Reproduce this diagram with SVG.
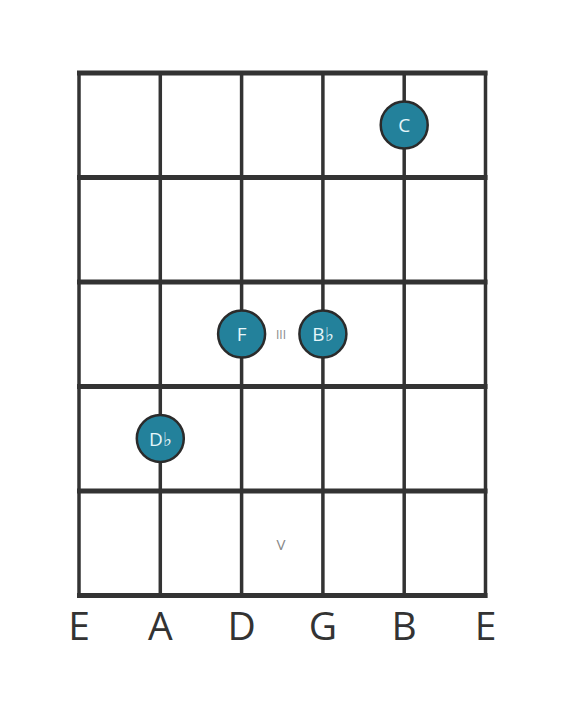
<svg xmlns="http://www.w3.org/2000/svg" width="566" height="711" viewBox="0 0 566 711">
<style>
.fret{stroke:#333;stroke-width:5;fill:none}
.str{stroke:#333;stroke-width:3.5;fill:none}
.dot{fill:#23819b;stroke:#2b2b2b;stroke-width:2.5}
.dt{font-family:"Open Sans","Noto Sans",sans-serif;font-size:19px;fill:#e6f6fa;text-anchor:middle}
.mk{font-family:"Open Sans","Noto Sans",sans-serif;fill:#888;text-anchor:middle}
.lb{font-family:"Open Sans","Noto Sans",sans-serif;font-size:39px;fill:#333;text-anchor:middle}
</style>
<rect width="566" height="711" fill="#fff"/>
<g id="grid">
<line class="str" x1="79" y1="71" x2="79" y2="598"/>
<line class="str" x1="160.3" y1="73" x2="160.3" y2="595.5"/>
<line class="str" x1="241.6" y1="73" x2="241.6" y2="595.5"/>
<line class="str" x1="322.9" y1="73" x2="322.9" y2="595.5"/>
<line class="str" x1="404.2" y1="73" x2="404.2" y2="595.5"/>
<line class="str" x1="485.5" y1="71" x2="485.5" y2="598"/>
<line class="fret" x1="77" y1="73" x2="487.5" y2="73"/>
<line class="fret" x1="77" y1="177.5" x2="487.5" y2="177.5"/>
<line class="fret" x1="77" y1="282" x2="487.5" y2="282"/>
<line class="fret" x1="77" y1="386.5" x2="487.5" y2="386.5"/>
<line class="fret" x1="77" y1="491" x2="487.5" y2="491"/>
<line class="fret" x1="77" y1="595.5" x2="487.5" y2="595.5"/>
</g>
<g id="markers">
<text class="mk" x="281" y="338.5" font-size="12">III</text>
<text class="mk" x="281" y="550" font-size="15">V</text>
</g>
<g id="note-C"><circle class="dot" cx="404.2" cy="125" r="23.5"/><text class="dt" x="404.2" y="132">C</text></g>
<g id="note-F"><circle class="dot" cx="241.6" cy="334" r="23.5"/><text class="dt" x="241.6" y="341">F</text></g>
<g id="note-Bb"><circle class="dot" cx="322.9" cy="334" r="23.5"/><text class="dt" x="322.9" y="341">B♭</text></g>
<g id="note-Db"><circle class="dot" cx="160.3" cy="438.5" r="23.5"/><text class="dt" x="160.3" y="445.5">D♭</text></g>
<g id="labels">
<text class="lb" x="79" y="640">E</text>
<text class="lb" x="160.3" y="640">A</text>
<text class="lb" x="241.6" y="640">D</text>
<text class="lb" x="322.9" y="640">G</text>
<text class="lb" x="404.2" y="640">B</text>
<text class="lb" x="485.5" y="640">E</text>
</g>
</svg>
